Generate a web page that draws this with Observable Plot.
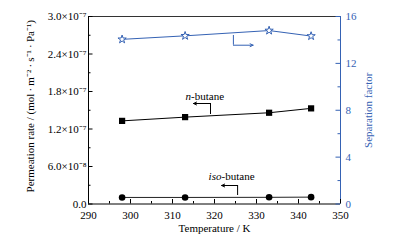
<!DOCTYPE html>
<html>
<head>
<meta charset="utf-8">
<script src="https://cdn.jsdelivr.net/npm/d3@7"></script>
<script src="https://cdn.jsdelivr.net/npm/@observablehq/plot@0.6"></script>
<style>
html,body{margin:0;padding:0;background:#fff;}
</style>
</head>
<body>
<div id="chart"></div>
<script>
// Data
const temps = [298, 313, 333, 343];
const nButane = [1.33e-7, 1.39e-7, 1.46e-7, 1.53e-7];
const isoButane = [1.05e-8, 1.05e-8, 1.07e-8, 1.1e-8];
const sepFactor = [14.05, 14.35, 14.8, 14.33];

const xTicks = [290, 300, 310, 320, 330, 340, 350];
const xMinor = [295, 305, 315, 325, 335, 345];
const yTicks = [0, 0.6e-7, 1.2e-7, 1.8e-7, 2.4e-7, 3.0e-7];
const yTickLabels = ["0.0", "6.0×10⁻⁸", "1.2×10⁻⁷", "1.8×10⁻⁷", "2.4×10⁻⁷", "3.0×10⁻⁷"];
const yMinor = [0.3e-7, 0.9e-7, 1.5e-7, 2.1e-7, 2.7e-7];
const sfTicks = [0, 4, 8, 12, 16];
const sfMinor = [2, 6, 10, 14];

const yMax = 3e-7, sfMax = 16;
const toLeft = v => v / sfMax * yMax;

const blue = "#3562b4";
const W = 400, H = 245;
const mL = 88, mR = 60, mT = 16, mB = 41.5;
const fw = W - mL - mR, fh = H - mT - mB;
const font = {fontFamily: "Liberation Serif", fontSize: 11};

const nData = temps.map((t, i) => ({t, v: nButane[i]}));
const iData = temps.map((t, i) => ({t, v: isoButane[i]}));
const sData = temps.map((t, i) => ({t, v: toLeft(sepFactor[i])}));

// Annotation anchors (data units)
const ann = [
  {pre: "n", rest: "-butane", x: 313.1, y: 1.72e-7, preW: 5.6},
  {pre: "iso", rest: "-butane", x: 318.6, y: 0.44e-7, preW: 13.0}
];
const arrows = [
  {x1: 319.05, x2: 315.0, y: 1.608e-7, yv: 1.432e-7, color: "#000"},
  {x1: 325.5, x2: 321.7, y: 0.296e-7, yv: 0.136e-7, color: "#000"},
  {x1: 324.5, x2: 329.2, y: toLeft(13.55), yv: toLeft(14.38), color: blue}
];

const chart = Plot.plot({
  width: W, height: H,
  marginLeft: mL, marginRight: mR, marginTop: mT, marginBottom: mB,
  style: {fontFamily: "Liberation Serif", fontSize: "11px", background: "#fff", color: "#000"},
  x: {domain: [290, 350]},
  y: {domain: [0, yMax]},
  marks: [
    // frame
    Plot.ruleY([yMax], {stroke: "#333", strokeWidth: 1}),
    Plot.ruleY([0], {stroke: "#000", strokeWidth: 1}),
    Plot.ruleX([290], {stroke: "#000", strokeWidth: 1}),
    Plot.ruleX([350], {stroke: blue, strokeWidth: 1}),
    // inward ticks
    Plot.tickX(xTicks, {x: d => d, insetTop: fh - 4.5, stroke: "#000"}),
    Plot.tickX(xMinor, {x: d => d, insetTop: fh - 2.5, stroke: "#000"}),
    Plot.tickY(yTicks, {y: d => d, insetRight: fw - 4.5, stroke: "#000"}),
    Plot.tickY(yMinor, {y: d => d, insetRight: fw - 2.5, stroke: "#000"}),
    Plot.tickY(sfTicks.map(toLeft), {y: d => d, insetLeft: fw - 4.5, stroke: blue}),
    Plot.tickY(sfMinor.map(toLeft), {y: d => d, insetLeft: fw - 2.5, stroke: blue}),
    // axes labels
    Plot.axisX({ticks: xTicks, tickSize: 0, tickPadding: 7, tickFormat: d => String(d), label: null, ...font}),
    Plot.axisY({ticks: yTicks, tickSize: 0, tickPadding: 2, tickFormat: d => yTickLabels[yTicks.indexOf(d)], label: null, ...font}),
    Plot.axisY({anchor: "right", ticks: sfTicks.map(toLeft), tickSize: 0, tickPadding: 5,
      tickFormat: d => String(Math.round(d / yMax * sfMax)), label: null, color: blue, ...font}),
    // axis titles
    Plot.text(["Permeation rate / (mol\u2009·\u2009m⁻²\u2009·\u2009s⁻¹\u2009·\u2009Pa⁻¹)"], {frameAnchor: "left", textAnchor: "middle", dx: -58, dy: -4, rotate: -90, fill: "#000", ...font}),
    Plot.text(["Separation factor"], {frameAnchor: "right", textAnchor: "middle", dx: 28, rotate: -90, fill: blue, ...font}),
    Plot.text(["Temperature / K"], {frameAnchor: "bottom", dy: 28, fill: "#000", ...font}),
    // series
    Plot.line(sData, {x: "t", y: "v", stroke: blue, strokeWidth: 1}),
    Plot.dot(sData, {x: "t", y: "v", symbol: "star", r: 2.6, stroke: blue, fill: "#fff", strokeWidth: 1}),
    Plot.line(nData, {x: "t", y: "v", stroke: "#000", strokeWidth: 1}),
    Plot.dot(nData, {x: "t", y: "v", symbol: "square", r: 3.5, fill: "#000", stroke: "none"}),
    Plot.line(iData, {x: "t", y: "v", stroke: "#222", strokeWidth: 1}),
    Plot.dot(iData, {x: "t", y: "v", symbol: "circle", r: 3.3, fill: "#000", stroke: "none"}),
    // annotations
    ...ann.flatMap(a => [
      Plot.text([a], {x: "x", y: "y", text: "pre", textAnchor: "start", fontStyle: "italic", fill: "#000", ...font}),
      Plot.text([a], {x: "x", y: "y", text: "rest", textAnchor: "start", dx: a.preW, fill: "#000", ...font})
    ]),
    Plot.ruleX(arrows, {x: "x1", y1: "y", y2: "yv", stroke: "color", strokeWidth: 1}),
    Plot.arrow(arrows, {x1: "x1", x2: "x2", y1: "y", y2: "y", stroke: "color", strokeWidth: 1, headLength: 5, headAngle: 50})
  ]
});
document.getElementById("chart").appendChild(chart);
</script>
</body>
</html>
